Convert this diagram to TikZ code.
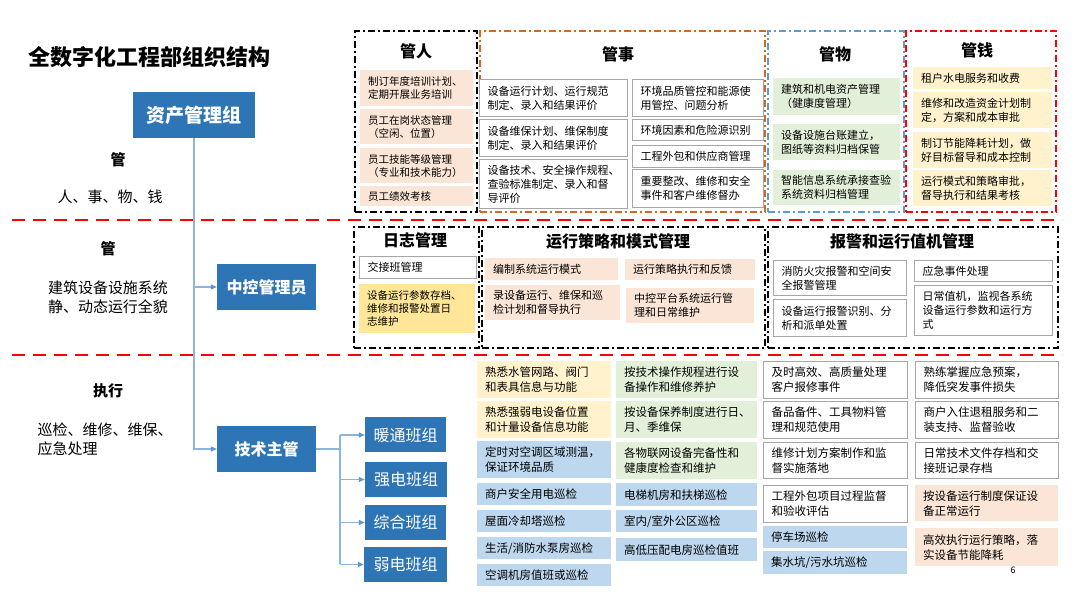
\documentclass[tikz,border=0pt]{standalone}
\usepackage{fontspec}
\setmainfont{Noto Sans CJK SC}
\usetikzlibrary{arrows.meta}
\definecolor{zblue}{HTML}{2E75B6}
\definecolor{lnblue}{HTML}{8CB4E0}
\definecolor{tipblue}{HTML}{5B9BD5}
\definecolor{peach}{HTML}{FBE5D6}
\definecolor{lgreen}{HTML}{E2F0D9}
\definecolor{lyellow}{HTML}{FFF2CC}
\definecolor{gold}{HTML}{FFE699}
\definecolor{lblue}{HTML}{BDD7EE}
\definecolor{gborder}{HTML}{A6A6A6}
\definecolor{orng}{HTML}{D2691E}
\definecolor{gblue}{HTML}{5B9BD5}
\tikzset{
  it/.style={anchor=north west, align=left, inner xsep=8pt, inner ysep=1pt, font=\fontsize{11}{14}\selectfont},
  itb/.style={anchor=north west, align=left, inner xsep=8pt, inner ysep=1pt, font=\fontsize{11.5}{15}\selectfont},
  sm/.style={font=\fontsize{10.5}{13}\selectfont},
  wbox/.style={draw=gborder, line width=1.1pt, fill=white},
  pch/.style={fill=peach},
  grn/.style={fill=lgreen},
  ylw/.style={fill=lyellow},
  gld/.style={fill=gold},
  lbl/.style={fill=lblue},
  grpbox/.style={anchor=north west, line width=1.6pt, dash pattern=on 7pt off 3pt on 2pt off 3pt},
  ttl/.style={font=\fontsize{16}{18}\selectfont\bfseries},
  bluebox/.style={fill=zblue, text=white, inner sep=0pt},
  lab/.style={font=\fontsize{15}{19}\selectfont},
  labb/.style={font=\fontsize{15}{19}\selectfont\bfseries},
  conn/.style={draw=lnblue, line width=1.2pt},
  tip/.style={-{Triangle[length=6pt,width=5pt,color=tipblue]}},
  sepline/.style={draw=red, line width=2.6pt, dash pattern=on 13pt off 8pt},
}
\newcommand\mkitem[7]{%
  \pgfmathsetmacro\itmtw{#5-16}%
  \node[#1, minimum width=#5pt, minimum height=#6pt, text width=\itmtw pt] (#2) at (#3,#4) {#7};}
\begin{document}
\begin{tikzpicture}[x=1pt,y=-1pt]
\useasboundingbox[fill=white] (0,0) rectangle (1080,601);

% separators
\coordinate (s1a) at (12,220); \coordinate (s1b) at (1062,220);
\coordinate (s2a) at (12,355); \coordinate (s2b) at (1062,355);
\draw[sepline] (s1a) -- (s1b);
\draw[sepline] (s2a) -- (s2b);

% title and left labels
\node[anchor=west, font=\fontsize{22}{24}\selectfont\bfseries] (title) at (25,57) {全数字化工程部组织结构};
\node[labb] (g1) at (118,160) {管};
\node[lab] (g1t) at (110,197) {人、事、物、钱};
\node[labb] (g2) at (108,249) {管};
\node[lab, align=center] (g2t) at (108,297) {建筑设备设施系统\\静、动态运行全貌};
\node[labb] (g3) at (108,391) {执行};
\node[lab, align=left, anchor=west] (g3t) at (34,439) {巡检、维修、维保、\\应急处理};

% blue boxes
\node[bluebox, minimum width=122pt, minimum height=46pt, font=\fontsize{19}{21}\selectfont\bfseries] (zc) at (194,115) {资产管理组};
\node[bluebox, minimum width=99pt, minimum height=46pt, font=\fontsize{16}{18}\selectfont\bfseries] (zk) at (266.5,287) {中控管理员};
\node[bluebox, minimum width=99pt, minimum height=46pt, font=\fontsize{16}{18}\selectfont\bfseries] (js) at (266.5,449) {技术主管};
\node[bluebox, minimum width=81pt, minimum height=35pt, font=\fontsize{16}{18}\selectfont] (nt) at (405.5,435) {暖通班组};
\node[bluebox, minimum width=82pt, minimum height=35pt, font=\fontsize{16}{18}\selectfont] (qd) at (406,479.5) {强电班组};
\node[bluebox, minimum width=81pt, minimum height=35pt, font=\fontsize{16}{18}\selectfont] (zh) at (405.5,522.5) {综合班组};
\node[bluebox, minimum width=83pt, minimum height=35pt, font=\fontsize{16}{18}\selectfont] (rd) at (405.5,564.5) {弱电班组};

% connectors
\draw[conn, tip] (zc.south) |- (js.west);
\draw[conn, tip] (zc.south |- zk.west) -- (zk.west);
\coordinate (br) at (340,449);
\draw[conn] (js.east) -- (br);
\draw[conn] (br |- nt.west) -- (br |- rd.west);
\draw[conn, tip] (br |- nt.west) -- (nt.west);
\draw[conn, tip] (br |- qd.west) -- (qd.west);
\draw[conn, tip] (br |- zh.west) -- (zh.west);
\draw[conn, tip] (br |- rd.west) -- (rd.west);

% group boxes top
\node[grpbox, draw=black, minimum width=122pt, minimum height=181pt] (gRen) at (354,30) {};
\node[grpbox, draw=orng, minimum width=285pt, minimum height=181pt] (gShi) at (479,30) {};
\node[grpbox, draw=gblue, minimum width=136pt, minimum height=181pt] (gWu) at (767,30) {};
\node[grpbox, draw=red, minimum width=150pt, minimum height=181pt] (gQian) at (905,30) {};
% group boxes middle
\node[grpbox, draw=black, minimum width=125pt, minimum height=121pt] (gRz) at (353,226) {};
\node[grpbox, draw=black, minimum width=283pt, minimum height=121pt] (gYx) at (481,226) {};
\node[grpbox, draw=black, minimum width=290pt, minimum height=121pt] (gBj) at (767,226) {};

% titles
\node[ttl] (tRen) at (416,51) {管人};
\node[ttl] (tShi) at (618,54) {管事};
\node[ttl] (tWu) at (835,54) {管物};
\node[ttl] (tQian) at (977,50) {管钱};
\node[ttl] (tRz) at (415,240) {日志管理};
\node[ttl] (tYx) at (618,241) {运行策略和模式管理};
\node[ttl] (tBj) at (902,241) {报警和运行值机管理};

% 管人
\mkitem{it,sm,pch}{r1}{360}{70}{113}{36}{制订年度培训计划、\\定期开展业务培训}
\mkitem{it,sm,pch}{r2}{360}{109}{113}{35}{员工在岗状态管理\\（空闲、位置）}
\mkitem{it,sm,pch}{r3}{360}{148}{113}{35}{员工技能等级管理\\（专业和技术能力）}
\mkitem{it,sm,pch}{r4}{360}{186}{113}{20}{员工绩效考核}

% 管事
\mkitem{it,wbox}{s1}{479}{79}{148}{37}{设备运行计划、运行规范\\制定、录入和结果评价}
\mkitem{it,wbox}{s2}{479}{119}{148}{37}{设备维保计划、维保制度\\制定、录入和结果评价}
\mkitem{it,wbox}{s3}{479}{159}{148}{49}{设备技术、安全操作规程、\\查验标准制定、录入和督\\导评价}
\mkitem{it,wbox}{s5}{632}{79}{131}{37}{环境品质管控和能源使\\用管控、问题分析}
\mkitem{it,wbox}{s6}{632}{119}{131}{21}{环境因素和危险源识别}
\mkitem{it,wbox}{s7}{632}{145}{131}{22}{工程外包和供应商管理}
\mkitem{it,wbox}{s8}{632}{169}{131}{38}{重要整改、维修和安全\\事件和客户维修督办}

% 管物
\mkitem{it,grn}{w1}{773}{78}{127}{37}{建筑和机电资产管理\\（健康度管理）}
\mkitem{it,grn}{w2}{773}{124}{127}{36}{设备设施台账建立，\\图纸等资料归档保管}
\mkitem{it,grn}{w3}{773}{170}{127}{35}{智能信息系统承接查验\\系统资料归档管理}

% 管钱
\mkitem{it,ylw}{q1}{913}{67}{139}{22}{租户水电服务和收费}
\mkitem{it,ylw}{q2}{913}{92}{139}{36}{维修和改造资金计划制\\定，方案和成本审批}
\mkitem{it,ylw}{q3}{913}{132}{139}{36}{制订节能降耗计划，做\\好目标督导和成本控制}
\mkitem{it,ylw}{q4}{913}{170}{139}{36}{运行模式和策略审批，\\督导执行和结果考核}

% 日志管理
\mkitem{it,wbox}{z1}{359}{256}{117}{22}{交接班管理}
\mkitem{it,sm,gld}{z2}{359}{284}{116}{49}{设备运行参数存档、\\维修和报警处置日\\志维护}

% 运行策略和模式管理
\mkitem{it,pch}{y1}{485}{258}{133}{22}{编制系统运行模式}
\mkitem{it,pch}{y2}{485}{285}{135}{35}{录设备运行、维保和巡\\检计划和督导执行}
\mkitem{it,pch}{y3}{625}{259}{130}{21}{运行策略执行和反馈}
\mkitem{it,pch}{y4}{626}{288}{128}{35}{中控平台系统运行管\\理和日常维护}

% 报警和运行值机管理
\mkitem{it,wbox}{b1}{773}{260}{133}{35}{消防火灾报警和空间安\\全报警管理}
\mkitem{it,wbox}{b2}{773}{299}{133}{37}{设备运行报警识别、分\\析和派单处置}
\mkitem{it,wbox}{b3}{914}{260}{138}{21}{应急事件处理}
\mkitem{it,wbox}{b4}{914}{285}{138}{50}{日常值机，监视各系统\\设备运行参数和运行方\\式}

% bottom col 1
\mkitem{itb,ylw}{c11}{477}{361}{134}{37}{熟悉水管网路、阀门\\和表具信息与功能}
\mkitem{itb,ylw}{c12}{477}{401}{134}{37}{熟悉强弱电设备位置\\和计量设备信息功能}
\mkitem{itb,lbl}{c13}{477}{441}{134}{37}{定时对空调区域测温，\\保证环境品质}
\mkitem{itb,lbl}{c14}{477}{483}{134}{22}{商户安全用电巡检}
\mkitem{itb,lbl}{c15}{477}{510}{134}{22}{屋面冷却塔巡检}
\mkitem{itb,lbl}{c16}{477}{537}{134}{22}{生活/消防水泵房巡检}
\mkitem{itb,lbl}{c17}{477}{564}{134}{22}{空调机房值班或巡检}
% bottom col 2
\mkitem{itb,grn}{c21}{616}{361}{141}{37}{按技术操作规程进行设\\备操作和维修养护}
\mkitem{itb,grn}{c22}{616}{401}{141}{37}{按设备保养制度进行日、\\月、季维保}
\mkitem{itb,grn}{c23}{616}{442}{141}{37}{各物联网设备完备性和\\健康度检查和维护}
\mkitem{itb,lbl}{c24}{616}{483}{141}{23}{电梯机房和扶梯巡检}
\mkitem{itb,lbl}{c25}{616}{510}{141}{22}{室内/室外公区巡检}
\mkitem{itb,lbl}{c26}{616}{538}{141}{23}{高低压配电房巡检值班}
% bottom col 3
\mkitem{itb,wbox}{c31}{763}{361}{144}{37}{及时高效、高质量处理\\客户报修事件}
\mkitem{itb,wbox}{c32}{763}{401}{144}{37}{备品备件、工具物料管\\理和规范使用}
\mkitem{itb,wbox}{c33}{763}{442}{144}{36}{维修计划方案制作和监\\督实施落地}
\mkitem{itb,wbox}{c34}{763}{485}{144}{37}{工程外包项目过程监督\\和验收评估}
\mkitem{itb,lbl}{c35}{763}{526}{144}{22}{停车场巡检}
\mkitem{itb,lbl}{c36}{763}{551}{144}{23}{集水坑/污水坑巡检}
% bottom col 4
\mkitem{itb,wbox}{c41}{915}{361}{143}{37}{熟练掌握应急预案，\\降低突发事件损失}
\mkitem{itb,wbox}{c42}{915}{401}{143}{37}{商户入住退租服务和二\\装支持、监督验收}
\mkitem{itb,wbox}{c43}{915}{442}{143}{36}{日常技术文件存档和交\\接班记录存档}
\mkitem{itb,pch}{c44}{915}{485}{143}{36}{按设备运行制度保证设\\备正常运行}
\mkitem{itb,pch}{c45}{915}{528}{143}{38}{高效执行运行策略，落\\实设备节能降耗}

\node[font=\fontsize{9}{10}\selectfont] (pg) at (1013,570) {6};
\end{tikzpicture}
\end{document}
